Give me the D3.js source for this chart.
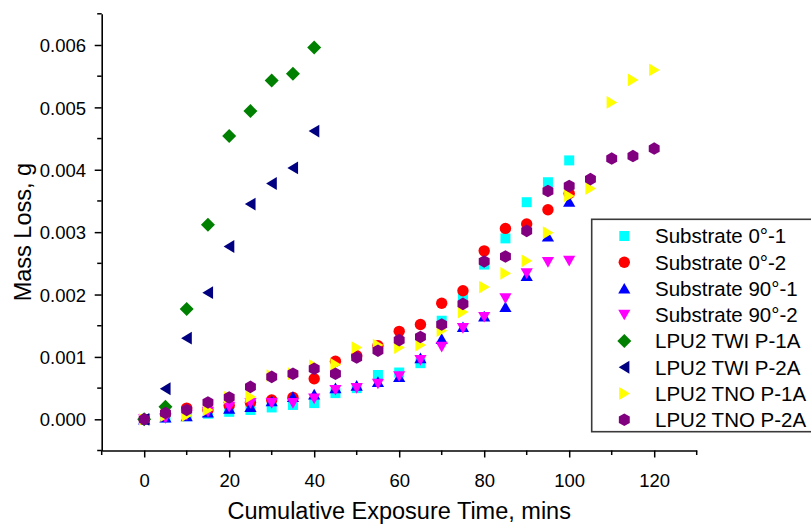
<!DOCTYPE html>
<html>
<head>
<meta charset="utf-8">
<script src="https://cdn.jsdelivr.net/npm/d3@7"></script>
<style>
  html, body { margin: 0; padding: 0; background: #fff; }
  svg { display: block; font-family: "Liberation Sans", Arial, sans-serif; }
</style>
</head>
<body>
<svg id="chart" width="811" height="526"></svg>
<script>
// Exposure times (mins), sampled every 5 minutes
const times = [0, 5, 10, 15, 20, 25, 30, 35, 40, 45, 50, 55, 60, 65, 70, 75, 80, 85, 90, 95, 100, 105, 110, 115, 120];

// Mass loss (g) for each specimen, one value per exposure time
const substrate0_1  = [0, 0.00003, 0.00005, 0.00009, 0.00012, 0.00015, 0.00019, 0.00023, 0.00026, 0.00042, 0.00050, 0.00071, 0.00075, 0.00090, 0.00158, 0.00196, 0.00248, 0.00290, 0.00348, 0.00380, 0.00415];
const substrate0_2  = [0, 0.00008, 0.00018, 0.00015, 0.00022, 0.00027, 0.00031, 0.00035, 0.00065, 0.00093, 0.00102, 0.00118, 0.00141, 0.00152, 0.00186, 0.00206, 0.00270, 0.00306, 0.00313, 0.00336, 0.00362];
const substrate90_1 = [0, 0.00003, 0.00005, 0.00011, 0.00017, 0.00020, 0.00029, 0.00036, 0.00040, 0.00050, 0.00054, 0.00060, 0.00068, 0.00098, 0.00129, 0.00148, 0.00165, 0.00180, 0.00230, 0.00293, 0.00349];
const substrate90_2 = [0, 0.00002, 0.00007, 0.00012, 0.00020, 0.00026, 0.00026, 0.00026, 0.00033, 0.00047, 0.00050, 0.00057, 0.00069, 0.00095, 0.00116, 0.00146, 0.00164, 0.00194, 0.00234, 0.00252, 0.00254];
const lpu2Twi1A     = [0, 0.00020, 0.00177, 0.00312, 0.00454, 0.00494, 0.00543, 0.00554, 0.00596];
const lpu2Twi2A     = [0, 0.00049, 0.00130, 0.00203, 0.00277, 0.00345, 0.00378, 0.00403, 0.00462];
const lpu2Tno1A     = [0, 0.00006, 0.00006, 0.00015, 0.00035, 0.00036, 0.00070, 0.00073, 0.00086, 0.00088, 0.00115, 0.00119, 0.00115, 0.00119, 0.00142, 0.00172, 0.00212, 0.00234, 0.00254, 0.00299, 0.00358, 0.00370, 0.00508, 0.00544, 0.00560];
const lpu2Tno2A     = [0, 0.00010, 0.00015, 0.00027, 0.00035, 0.00052, 0.00068, 0.00073, 0.00081, 0.00073, 0.00099, 0.00110, 0.00127, 0.00132, 0.00152, 0.00185, 0.00253, 0.00261, 0.00302, 0.00366, 0.00374, 0.00385, 0.00418, 0.00422, 0.00434];

// Legend names, in drawing order
const seriesNames = ["Substrate 0°-1", "Substrate 0°-2", "Substrate 90°-1", "Substrate 90°-2",
                     "LPU2 TWI P-1A", "LPU2 TWI P-2A", "LPU2 TNO P-1A", "LPU2 TNO P-2A"];
const seriesValues = [substrate0_1, substrate0_2, substrate90_1, substrate90_2,
                      lpu2Twi1A, lpu2Twi2A, lpu2Tno1A, lpu2Tno2A];

// Axis ticks
const xMajorTicks = [0, 20, 40, 60, 80, 100, 120];
const xMinorTicks = [-10, 10, 30, 50, 70, 90, 110, 130];
const yMajorTicks = [0, 0.001, 0.002, 0.003, 0.004, 0.005, 0.006];
const yMinorTicks = [-0.0005, 0.0005, 0.0015, 0.0025, 0.0035, 0.0045, 0.0055, 0.0065];

// Marker styling per series
const colors  = ["#00FFFF", "#FF0000", "#0000FF", "#FF00FF", "#008000", "#000080", "#FFFF00", "#800080"];
const symbols = ["square", "circle", "triangleUp", "triangleDown", "diamond", "triangleLeft", "triangleRight", "hexagon"];

function symbolPath(kind) {
  switch (kind) {
    case "square":        return "M-5,-5H5V5H-5Z";
    case "circle":        return d3.symbol(d3.symbolCircle, Math.PI * 5.7 * 5.7)();
    case "triangleUp":    return "M0,-5.6L6.1,5.1L-6.1,5.1Z";
    case "triangleDown":  return "M0,5.6L6.1,-5.1L-6.1,-5.1Z";
    case "diamond":       return "M0,-7L7,0L0,7L-7,0Z";
    case "triangleLeft":  return "M-5.6,0L5.1,-6.4L5.1,6.4Z";
    case "triangleRight": return "M5.6,0L-5.1,-6.4L-5.1,6.4Z";
    case "hexagon": {
      const r = 6.3, pts = [];
      for (let i = 0; i < 6; i++) {
        const a = -Math.PI / 2 + i * Math.PI / 3;
        pts.push([r * Math.cos(a), r * Math.sin(a)]);
      }
      return "M" + pts.map(p => p[0].toFixed(2) + "," + p[1].toFixed(2)).join("L") + "Z";
    }
  }
}

const svg = d3.select("#chart");

const x = d3.scaleLinear().domain([-10, 130]).range([101.7, 696.7]);
const y = d3.scaleLinear().domain([-0.0005, 0.0065]).range([450.5, 13.8]);

const axisColor = "#000";

// X axis
const xAxisG = svg.append("g").attr("transform", `translate(0,${y(-0.0005)})`);
xAxisG.call(d3.axisBottom(x).tickValues(xMajorTicks).tickSize(7).tickSizeOuter(0).tickFormat(d3.format("d")));
xAxisG.selectAll(".tick line").attr("stroke", axisColor).attr("stroke-width", 1.5);
xAxisG.select(".domain").attr("stroke", axisColor).attr("stroke-width", 1.6);
xAxisG.selectAll(".tick text")
  .attr("y", 36).attr("dy", 0)
  .attr("font-size", "18.5px").attr("fill", "#000")
  .attr("font-family", "'Liberation Sans', Arial, sans-serif");
xAxisG.selectAll(".minor").data(xMinorTicks).enter().append("line")
  .attr("class", "minor")
  .attr("x1", d => x(d)).attr("x2", d => x(d))
  .attr("y1", 0).attr("y2", 4.5)
  .attr("stroke", axisColor).attr("stroke-width", 1.5);

// Y axis
const yAxisG = svg.append("g").attr("transform", `translate(${x(-10)},0)`);
yAxisG.call(d3.axisLeft(y).tickValues(yMajorTicks).tickSize(7).tickSizeOuter(0).tickFormat(d3.format(".3f")));
yAxisG.selectAll(".tick line").attr("stroke", axisColor).attr("stroke-width", 1.5);
yAxisG.select(".domain").attr("stroke", axisColor).attr("stroke-width", 1.6);
yAxisG.selectAll(".tick text")
  .attr("x", -15.7).attr("dy", "0.36em")
  .attr("font-size", "18.5px").attr("fill", "#000")
  .attr("font-family", "'Liberation Sans', Arial, sans-serif");
yAxisG.selectAll(".minor").data(yMinorTicks).enter().append("line")
  .attr("class", "minor")
  .attr("y1", d => y(d)).attr("y2", d => y(d))
  .attr("x1", 0).attr("x2", -4.5)
  .attr("stroke", axisColor).attr("stroke-width", 1.5);

// Axis titles
svg.append("text")
  .attr("x", (x(-10) + x(130)) / 2)
  .attr("y", 519)
  .attr("text-anchor", "middle")
  .attr("font-size", "23.5px")
  .text("Cumulative Exposure Time, mins");

svg.append("text")
  .attr("transform", `translate(31,${(y(-0.0005) + y(0.0065)) / 2}) rotate(-90)`)
  .attr("text-anchor", "middle")
  .attr("font-size", "23.5px")
  .text("Mass Loss, g");

// Scatter markers, one group per series
seriesValues.forEach((vals, i) => {
  const pts = vals.map((v, j) => ({ t: times[j], v }));
  svg.append("g")
    .selectAll("path")
    .data(pts)
    .enter().append("path")
    .attr("d", symbolPath(symbols[i]))
    .attr("transform", d => `translate(${x(d.t)},${y(d.v)})`)
    .attr("fill", colors[i]);
});

// Legend
const legend = svg.append("g");
legend.append("rect")
  .attr("x", 591.7).attr("y", 219.3)
  .attr("width", 300).attr("height", 212.4)
  .attr("fill", "#fff")
  .attr("stroke", "#3a3a3a").attr("stroke-width", 1.6);

seriesNames.forEach((name, i) => {
  const cy = 236 + i * 26.25;
  legend.append("path")
    .attr("d", symbolPath(symbols[i]))
    .attr("transform", `translate(624.3,${cy})`)
    .attr("fill", colors[i]);
  legend.append("text")
    .attr("x", 655).attr("y", cy + 7.3)
    .attr("font-size", "20.5px")
    .text(name);
});
</script>
</body>
</html>
